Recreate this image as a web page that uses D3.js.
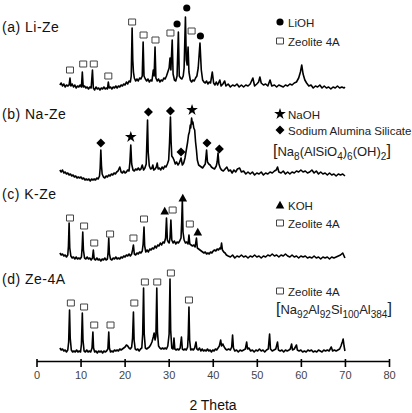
<!DOCTYPE html>
<html>
<head>
<meta charset="utf-8">
<script src="https://cdn.jsdelivr.net/npm/d3@7/dist/d3.min.js"></script>
<style>
  body { margin: 0; background: #fff; }
  svg { display: block; font-family: "Liberation Sans", Arial, sans-serif; }
</style>
</head>
<body>
<script>
// 2 theta values and intensities (relative to each trace's own baseline)
var seriesNames = ["(a) Li-Ze", "(b) Na-Ze", "(c) K-Ze", "(d) Ze-4A"];
var xTicks = [0, 10, 20, 30, 40, 50, 60, 70, 80];

var liZe = [[5.3,5],[5.6,7],[5.9,4],[6.2,6],[6.5,3],[6.8,5],[7.1,4],[7.4,5],[7.6,12],[7.8,4],[8.1,6],[8.4,3],[8.7,5],[9.0,2],[9.3,4],[9.6,3],[9.9,5],[10.2,3],[10.4,18],[10.6,3],[10.9,4],[11.2,2],[11.5,3],[11.8,1],[12.1,3],[12.4,2],[12.7,20],[12.9,2],[13.2,0],[13.5,3],[13.8,1],[14.1,2],[14.4,0],[14.7,2],[15.0,1],[15.3,3],[15.6,1],[15.9,2],[16.1,1],[16.3,8],[16.5,2],[16.8,3],[17.1,1],[17.4,3],[17.7,2],[18.0,4],[18.3,2],[18.6,4],[18.9,3],[19.2,5],[19.5,4],[19.8,6],[20.1,5],[20.4,8],[20.7,6],[21.0,9],[21.3,8],[21.5,14],[21.7,62],[21.85,30],[22.0,18],[22.2,12],[22.5,9],[22.8,11],[23.1,9],[23.4,12],[23.7,11],[24.0,14],[24.2,48],[24.4,14],[24.7,11],[25.0,9],[25.3,11],[25.6,8],[25.9,10],[26.2,9],[26.5,20],[26.7,14],[26.9,43],[27.1,12],[27.4,9],[27.7,11],[28.0,8],[28.3,10],[28.6,9],[28.9,12],[29.2,11],[29.5,14],[29.8,18],[30.1,22],[30.3,32],[30.5,20],[30.8,50],[31.0,16],[31.3,10],[31.6,9],[31.9,14],[32.2,58],[32.4,14],[32.7,12],[33.0,11],[33.3,14],[33.5,22],[33.8,73],[34.0,30],[34.2,25],[34.4,43],[34.6,18],[34.9,10],[35.2,8],[35.5,10],[35.8,9],[36.1,12],[36.4,14],[36.7,22],[37.1,47],[37.4,20],[37.7,10],[38.0,8],[38.3,7],[38.6,9],[38.9,6],[39.2,8],[39.5,7],[39.9,18],[40.2,7],[40.5,5],[40.8,8],[41.1,5],[41.6,10],[41.9,4],[42.3,6],[42.7,9],[43.0,4],[43.5,6],[44.0,3],[44.5,5],[45.0,4],[45.5,6],[46.0,3],[46.5,5],[47.0,3],[47.5,5],[48.0,4],[48.5,6],[49.1,12],[49.5,4],[50.0,6],[50.4,8],[50.7,13],[51.0,7],[51.5,5],[52.0,6],[52.5,4],[53.0,10],[53.4,4],[54.0,5],[54.5,3],[55.0,5],[55.5,4],[56.0,3],[56.5,5],[57.0,4],[57.5,6],[58.0,5],[58.5,7],[59.0,8],[59.5,12],[59.9,18],[60.2,25],[60.5,16],[60.9,10],[61.3,7],[61.8,4],[62.3,5],[62.8,2],[63.3,4],[63.8,3],[64.3,5],[64.8,2],[65.3,4],[65.8,2],[66.3,3],[66.8,1],[67.3,3],[67.8,2],[68.3,4],[68.8,2],[69.3,3],[69.8,2],[70.0,3]];

var naZe = [[5.3,12],[5.6,10],[5.9,12],[6.2,9],[6.5,10],[6.8,8],[7.1,9],[7.4,7],[7.7,8],[8.0,6],[8.3,7],[8.6,5],[8.9,6],[9.2,4],[9.5,5],[9.8,4],[10.1,5],[10.4,3],[10.7,4],[11.0,2],[11.3,3],[11.6,2],[11.9,3],[12.2,1],[12.5,3],[12.8,2],[13.1,3],[13.4,2],[13.7,4],[14.0,3],[14.3,6],[14.45,14],[14.6,32],[14.75,16],[14.9,8],[15.2,5],[15.5,4],[15.8,6],[16.1,5],[16.4,7],[16.7,6],[17.0,8],[17.3,7],[17.6,9],[17.9,8],[18.2,10],[18.5,11],[18.9,15],[19.2,10],[19.5,9],[19.8,11],[20.1,9],[20.4,10],[20.7,12],[21.0,11],[21.2,20],[21.4,37],[21.6,18],[21.9,12],[22.2,11],[22.5,13],[22.8,12],[23.1,14],[23.4,12],[23.7,13],[24.0,17],[24.3,12],[24.6,14],[24.9,18],[25.05,40],[25.2,62],[25.35,30],[25.6,16],[25.9,13],[26.2,14],[26.4,17],[26.6,12],[26.9,13],[27.2,15],[27.4,19],[27.6,13],[27.9,14],[28.2,12],[28.5,15],[28.8,13],[29.1,16],[29.4,15],[29.7,18],[30.0,22],[30.2,40],[30.4,65],[30.55,40],[30.7,26],[31.0,24],[31.2,22],[31.5,18],[31.8,20],[32.1,17],[32.4,19],[32.8,24],[33.1,17],[33.4,19],[33.7,24],[34.0,32],[34.3,40],[34.5,47],[34.7,50],[34.9,57],[35.0,54],[35.2,64],[35.4,58],[35.5,60],[35.7,54],[35.9,52],[36.1,40],[36.3,32],[36.5,22],[36.8,17],[37.1,16],[37.4,15],[37.7,14],[38.0,16],[38.3,18],[38.6,32],[38.8,20],[39.1,18],[39.4,17],[39.7,15],[40.0,14],[40.4,13],[40.8,16],[41.0,20],[41.2,29],[41.4,18],[41.7,14],[42.0,12],[42.4,11],[42.8,13],[43.2,15],[43.6,11],[44.0,12],[44.4,9],[44.8,12],[45.2,10],[45.6,13],[46.1,14],[46.5,10],[47.0,11],[47.5,8],[48.0,10],[48.5,8],[49.0,10],[49.5,7],[50.0,9],[50.5,8],[51.0,10],[51.5,7],[52.0,9],[52.5,8],[53.0,10],[53.5,9],[54.0,11],[54.4,12],[54.7,15],[55.0,10],[55.5,9],[56.0,11],[56.5,8],[57.0,10],[57.5,8],[58.0,10],[58.5,9],[59.0,11],[59.5,10],[60.0,12],[60.5,10],[61.0,11],[61.5,9],[62.0,10],[62.5,12],[63.0,9],[63.5,11],[64.0,8],[64.5,10],[65.0,8],[65.5,9],[66.0,7],[66.5,9],[67.0,7],[67.5,8],[68.0,6],[68.5,8],[69.0,7],[69.5,8],[70.0,6]];

var kZe = [[5.3,9],[5.6,7],[5.9,8],[6.2,6],[6.5,7],[6.8,5],[7.1,7],[7.25,16],[7.4,39],[7.55,14],[7.8,6],[8.1,4],[8.4,5],[8.7,3],[9.0,5],[9.3,3],[9.6,4],[9.9,3],[10.2,5],[10.35,14],[10.5,30],[10.65,12],[10.9,4],[11.2,3],[11.5,5],[11.8,3],[12.1,4],[12.4,2],[12.7,4],[12.9,12],[13.1,3],[13.4,2],[13.7,4],[14.0,2],[14.3,3],[14.6,1],[14.9,3],[15.2,2],[15.5,4],[15.8,2],[16.1,3],[16.25,10],[16.4,24],[16.55,8],[16.8,3],[17.1,2],[17.4,4],[17.7,3],[18.0,5],[18.3,3],[18.6,4],[18.9,3],[19.2,5],[19.5,4],[19.8,6],[20.1,5],[20.4,7],[20.7,6],[21.0,8],[21.3,6],[21.6,8],[21.8,12],[22.0,17],[22.2,8],[22.5,7],[22.8,9],[23.1,8],[23.4,10],[23.7,9],[24.0,11],[24.2,18],[24.4,35],[24.55,16],[24.8,10],[25.1,12],[25.4,10],[25.7,13],[26.0,12],[26.3,14],[26.6,13],[26.9,16],[27.2,14],[27.5,17],[27.8,16],[28.1,19],[28.4,17],[28.7,20],[29.0,19],[29.3,24],[29.5,44],[29.7,22],[29.9,20],[30.1,19],[30.3,24],[30.5,42],[30.7,22],[31.0,19],[31.3,21],[31.6,18],[31.9,20],[32.2,19],[32.5,21],[32.8,24],[32.95,40],[33.1,62],[33.25,30],[33.5,22],[33.8,19],[34.1,20],[34.4,18],[34.6,27],[34.8,18],[35.1,17],[35.4,16],[35.7,17],[36.0,15],[36.3,24],[36.5,14],[36.8,13],[37.1,12],[37.4,11],[37.7,10],[38.0,9],[38.3,10],[38.6,8],[38.9,9],[39.2,8],[39.5,10],[39.8,9],[40.1,11],[40.4,12],[40.7,11],[41.0,13],[41.3,12],[41.6,14],[41.8,13],[42.0,19],[42.2,12],[42.5,10],[42.8,9],[43.1,7],[43.5,6],[44.0,5],[44.5,7],[45.0,4],[45.5,6],[46.0,5],[46.5,7],[47.0,5],[47.5,6],[48.0,4],[48.5,6],[49.0,5],[49.5,7],[50.0,5],[50.5,6],[51.0,4],[51.5,6],[52.0,5],[52.5,7],[53.0,6],[53.5,8],[54.0,6],[54.5,7],[55.0,5],[55.5,7],[56.0,6],[56.5,8],[57.0,6],[57.5,5],[58.0,7],[58.5,5],[59.0,6],[59.5,4],[60.0,6],[60.5,5],[61.0,6],[61.5,4],[62.0,5],[62.5,4],[63.0,6],[63.5,4],[64.0,5],[64.5,3],[65.0,5],[65.5,4],[66.0,5],[66.5,3],[67.0,5],[67.5,4],[68.0,5],[68.5,6],[69.0,7],[69.5,9],[69.8,6],[70.0,4]];

var ze4A = [[5.3,6],[5.6,4],[5.9,5],[6.2,3],[6.5,4],[6.8,2],[7.1,4],[7.3,12],[7.5,44],[7.65,16],[7.9,4],[8.2,2],[8.5,3],[8.8,2],[9.1,4],[9.4,2],[9.7,3],[10.0,2],[10.2,10],[10.4,41],[10.55,14],[10.8,3],[11.1,2],[11.4,4],[11.7,2],[12.0,3],[12.3,2],[12.6,6],[12.8,22],[12.95,6],[13.2,2],[13.5,3],[13.8,1],[14.1,3],[14.4,2],[14.7,3],[15.0,1],[15.3,3],[15.6,2],[15.9,3],[16.2,5],[16.4,22],[16.55,6],[16.8,2],[17.1,3],[17.4,2],[17.7,4],[18.0,3],[18.3,4],[18.6,3],[18.9,5],[19.2,4],[19.5,5],[19.8,6],[20.1,7],[20.4,9],[20.7,8],[21.0,6],[21.3,5],[21.6,7],[21.8,16],[22.0,42],[22.15,14],[22.4,5],[22.7,4],[23.0,5],[23.3,3],[23.6,5],[23.9,6],[24.1,20],[24.3,66],[24.45,20],[24.7,6],[25.0,5],[25.3,6],[25.6,7],[25.9,9],[26.2,12],[26.5,17],[26.7,21],[26.9,14],[27.1,18],[27.3,66],[27.45,22],[27.7,8],[28.0,6],[28.3,5],[28.6,6],[28.9,5],[29.2,6],[29.5,5],[29.8,8],[30.1,20],[30.3,75],[30.45,24],[30.7,6],[31.0,5],[31.2,16],[31.4,5],[31.7,4],[32.0,5],[32.3,4],[32.6,6],[32.9,17],[33.1,5],[33.4,4],[33.7,5],[34.0,4],[34.3,7],[34.45,20],[34.6,47],[34.75,14],[35.0,4],[35.3,5],[35.6,4],[35.9,6],[36.2,12],[36.4,5],[36.7,4],[37.0,6],[37.3,3],[37.6,5],[37.9,3],[38.2,4],[38.5,3],[38.8,5],[39.1,3],[39.4,4],[39.7,2],[40.0,4],[40.3,3],[40.6,5],[40.9,4],[41.2,6],[41.5,8],[41.8,14],[42.0,8],[42.3,10],[42.6,7],[42.9,5],[43.2,4],[43.6,5],[44.0,4],[44.3,7],[44.5,19],[44.7,6],[45.0,3],[45.4,4],[45.8,2],[46.2,4],[46.6,3],[47.0,4],[47.4,5],[47.7,12],[47.9,5],[48.2,6],[48.6,3],[49.0,4],[49.4,2],[49.8,4],[50.2,3],[50.6,5],[51.0,3],[51.4,4],[51.8,2],[52.2,4],[52.6,5],[52.9,20],[53.1,5],[53.5,3],[53.9,4],[54.3,5],[54.7,12],[54.9,4],[55.3,3],[55.7,4],[56.1,2],[56.5,4],[56.9,3],[57.3,4],[57.6,5],[57.9,10],[58.1,4],[58.5,5],[59.0,9],[59.2,4],[59.6,3],[60.0,4],[60.4,2],[60.8,3],[61.2,2],[61.6,4],[62.0,3],[62.4,4],[62.8,2],[63.2,3],[63.6,2],[64.0,4],[64.4,3],[64.8,2],[65.2,4],[65.6,3],[66.0,4],[66.4,3],[66.9,7],[67.2,3],[67.6,4],[68.0,3],[68.4,4],[68.8,5],[69.1,8],[69.4,12],[69.6,15],[69.8,8],[70.0,3]];

// peak markers: [2theta, height above trace baseline]
var liZeSquares = [[7.6,20],[10.6,26],[13.0,26],[16.3,14],[21.7,68],[24.3,55],[27.0,50],[30.4,57],[35.2,59]];
var liZeCircles = [[31.9,66],[34.1,82],[37.2,54]];
var naZeDiamonds = [[14.6,39],[25.4,70],[30.4,71],[32.8,30],[38.7,39],[41.5,33]];
var naZeStars = [[21.4,45],[35.3,72]];
var kZeSquares = [[7.6,44],[10.8,36],[13.1,19],[16.7,28],[22.0,24],[24.4,43],[30.9,52],[34.8,38]];
var kZeTriangles = [[29.1,51],[33.2,64],[36.6,30]];
var ze4ASquares = [[7.8,51],[10.8,47],[13.1,29],[16.8,29],[22.2,51],[24.6,72],[27.4,72],[30.5,81],[34.6,54]];

var offsets = [271, 179, 99, 7];

var W = 412, H = 413;

var svg = d3.select("body").append("svg")
    .attr("width", W)
    .attr("height", H);

var x = d3.scaleLinear().domain([0, 80]).range([36.5, 389]);
var y = d3.scaleLinear().domain([0, 361]).range([361, 0]);

var traces = [liZe, naZe, kZe, ze4A];

traces.forEach(function (data, i) {
    var line = d3.line()
        .x(function (d) { return x(d[0]); })
        .y(function (d) { return y(d[1] + offsets[i]); });
    svg.append("path")
        .datum(data)
        .attr("d", line)
        .attr("fill", "none")
        .attr("stroke", "#000")
        .attr("stroke-width", 1.6)
        .attr("stroke-linejoin", "round");
});

// marker shapes
var markerPaths = {
    square: "M-3.5,-3V3H3.5V-3Z",
    diamond: "M0,-4.5L4.5,0L0,4.5L-4.5,0Z",
    triangle: "M0,-4.2L4.3,3.4L-4.3,3.4Z",
    star: d3.symbol().type(d3.symbolStar).size(42)(),
    circle: d3.symbol().type(d3.symbolCircle).size(40)()
};

function drawMarkers(list, offset, kind) {
    var open = kind === "square";
    svg.append("g").selectAll("path")
        .data(list)
        .enter().append("path")
        .attr("transform", function (d) {
            return "translate(" + x(d[0]) + "," + y(d[1] + offset) + ")";
        })
        .attr("d", markerPaths[kind])
        .attr("fill", open ? "#fff" : "#000")
        .attr("stroke", open ? "#444" : "none")
        .attr("stroke-width", 1);
}

drawMarkers(liZeSquares, offsets[0], "square");
drawMarkers(liZeCircles, offsets[0], "circle");
drawMarkers(naZeDiamonds, offsets[1], "diamond");
drawMarkers(naZeStars, offsets[1], "star");
drawMarkers(kZeSquares, offsets[2], "square");
drawMarkers(kZeTriangles, offsets[2], "triangle");
drawMarkers(ze4ASquares, offsets[3], "square");

// panel labels
var labelY = [32, 119, 199, 284];
seriesNames.forEach(function (name, i) {
    svg.append("text")
        .attr("x", 2)
        .attr("y", labelY[i])
        .attr("font-size", 14)
        .attr("letter-spacing", 0.5)
        .attr("fill", "#111")
        .text(name);
});

// legends
var legendItems = [
    {kind: "circle", y: 22, text: "LiOH"},
    {kind: "square", y: 41, text: "Zeolite 4A"},
    {kind: "star", y: 114, text: "NaOH"},
    {kind: "diamond", y: 130, text: "Sodium Alumina Silicate"},
    {kind: "triangle", y: 205, text: "KOH"},
    {kind: "square", y: 223, text: "Zeolite 4A"},
    {kind: "square", y: 291, text: "Zeolite 4A"}
];

legendItems.forEach(function (it) {
    var open = it.kind === "square";
    svg.append("path")
        .attr("transform", "translate(280," + it.y + ")")
        .attr("d", markerPaths[it.kind])
        .attr("fill", open ? "#fff" : "#000")
        .attr("stroke", open ? "#444" : "none");
    svg.append("text")
        .attr("x", 288)
        .attr("y", it.y + 4.5)
        .attr("font-size", 11.5)
        .attr("fill", "#222")
        .text(it.text);
});

// chemical formulas with subscripts
function formula(xPos, yPos, parts) {
    var t = svg.append("text")
        .attr("x", xPos)
        .attr("y", yPos)
        .attr("font-size", 13)
        .attr("fill", "#222");
    var low = false;
    parts.forEach(function (p) {
        var sub = p[1] === "sub";
        var br = p[1] === "br";
        var ts = t.append("tspan").text(p[0]);
        if (sub && !low) { ts.attr("dy", 4); low = true; }
        else if (!sub && low) { ts.attr("dy", -4); low = false; }
        if (sub) ts.attr("font-size", 10);
        if (br) ts.attr("font-size", 16);
    });
}

formula(273, 156, [["[", "br"], ["Na"], ["8", "sub"], ["(AlSiO"], ["4", "sub"], [")"], ["6", "sub"], ["(OH)"], ["2", "sub"], ["]", "br"]]);
formula(276, 314, [["[", "br"], ["Na"], ["92", "sub"], ["Al"], ["92", "sub"], ["Si"], ["100", "sub"], ["Al"], ["384", "sub"], ["]", "br"]]);

// x axis
var xAxis = d3.axisBottom(x)
    .tickValues(xTicks)
    .tickSize(6)
    .tickSizeOuter(0)
    .tickPadding(4);

var gx = svg.append("g")
    .attr("transform", "translate(0,361)")
    .call(xAxis);

gx.select(".domain").attr("stroke-width", 1.6);
gx.selectAll(".tick line").attr("y1", -2).attr("stroke-width", 1.6);
gx.selectAll(".tick text")
    .attr("font-size", 11)
    .attr("font-family", "'Liberation Sans', Arial, sans-serif")
    .attr("fill", "#444");

svg.append("text")
    .attr("x", 213)
    .attr("y", 410)
    .attr("text-anchor", "middle")
    .attr("font-size", 14)
    .attr("fill", "#111")
    .text("2 Theta");
</script>
</body>
</html>
